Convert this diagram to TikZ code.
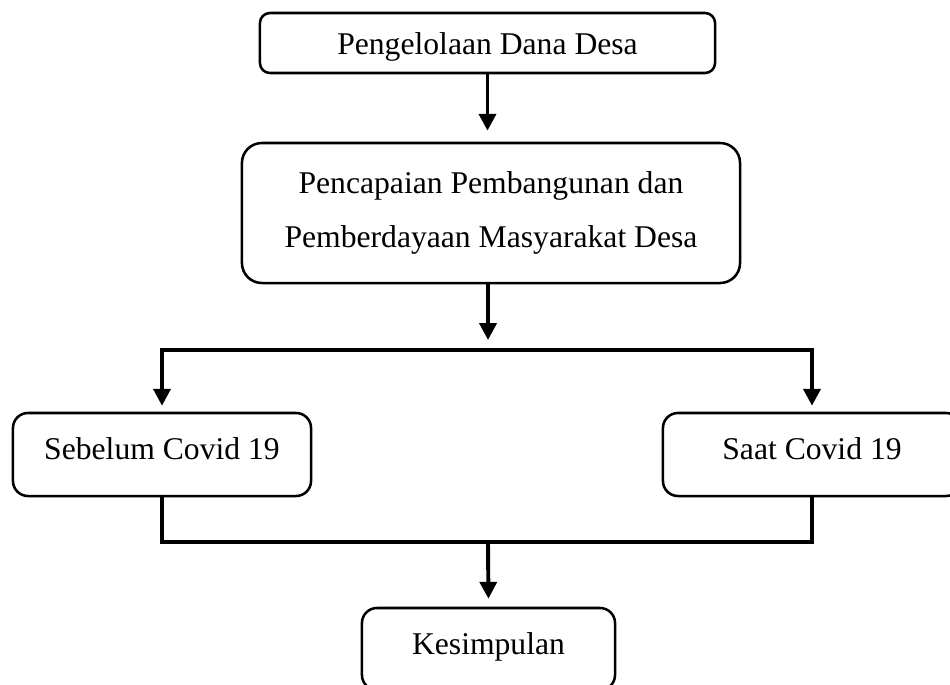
\documentclass[tikz,border=0pt]{standalone}
\usepackage{fontspec}
\setmainfont{Liberation Serif}
\usetikzlibrary{arrows.meta}

\begin{document}
\begin{tikzpicture}[
    x=0.025cm, y=-0.025cm,
    box/.style={draw, line width=1.8pt, align=center, fill=white, inner sep=0pt, font=\fontsize{22.5}{39}\selectfont},
    onebox/.style={box, text height=0.565cm, text depth=0.3cm},
    link/.style={line width=2.8pt},
    arrow/.style={-{Triangle[length=12pt, width=12pt]}, line width=2.8pt}
]
\useasboundingbox (0,0) rectangle (950,685);
\clip (0,0) rectangle (950,685);
% Nodes
\node[box, text height=0.565cm, text depth=0cm, rounded corners=0.25cm, minimum width=11.375cm, minimum height=1.5cm] (dana) at (487.5,43) {Pengelolaan Dana Desa};
\node[box, rounded corners=0.5cm, minimum width=12.45cm, minimum height=3.5cm] (capai) at (491,213) {Pencapaian Pembangunan dan\\Pemberdayaan Masyarakat Desa};
\node[onebox, rounded corners=0.375cm, minimum width=7.45cm, minimum height=2.075cm] (sebelum) at (162,454.5) {Sebelum Covid 19};
\node[onebox, rounded corners=0.375cm, minimum width=7.45cm, minimum height=2.075cm] (saat) at (812,454.5) {Saat Covid 19};
\node[onebox, rounded corners=0.375cm, minimum width=6.325cm, minimum height=2.05cm] (simpul) at (488.5,649) {Kesimpulan};
\coordinate (fork) at (488,350);
\coordinate (join) at (488,542);

% Arrows
\draw[arrow, shorten >=0.275cm] (dana.south) -- (dana.south |- capai.north);
\draw[arrow, shorten >=0.25cm] (fork |- capai.south) -- (fork);
\draw[arrow, shorten >=0.15cm] (fork) -| (sebelum.north);
\draw[arrow, shorten >=0.15cm] (fork) -| (saat.north);
\draw[link] (sebelum.south) |- (join) -| (saat.south);
\draw[arrow, shorten >=0.2cm] (join) -- (simpul.north);

\end{tikzpicture}
\end{document}
